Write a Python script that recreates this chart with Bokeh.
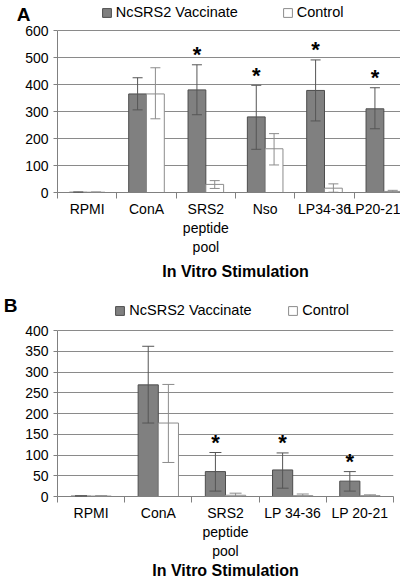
from bokeh.plotting import figure
from bokeh.models import (ColumnDataSource, FixedTicker, Whisker, TeeHead, Legend,
                          LegendItem, Range1d, LinearAxis)
from bokeh.layouts import column
from bokeh.embed import file_html
from bokeh.resources import INLINE
from bokeh.core.properties import value

FONT = "Liberation Sans"

# ---------------- Panel A data ----------------
a_categories = ["RPMI", "ConA", "SRS2\npeptide\npool", "Nso", "LP34-36", "LP20-21"]
a_vacc = [1, 365, 380, 280, 378, 310]
a_vacc_lo = [0, 306, 288, 160, 265, 236]
a_vacc_hi = [2, 425, 473, 397, 491, 388]
a_ctrl = [1, 365, 30, 162, 16, 4]
a_ctrl_lo = [0, 273, 15, 102, 1, 0]
a_ctrl_hi = [2, 462, 44, 218, 32, 8]
a_sig = [False, False, True, True, True, True]
a_yticks = [0, 100, 200, 300, 400, 500, 600]

# ---------------- Panel B data ----------------
b_categories = ["RPMI", "ConA", "SRS2\npeptide\npool", "LP 34-36", "LP 20-21"]
b_vacc = [1, 269, 60, 64, 37]
b_vacc_lo = [0, 177, 13, 20, 13]
b_vacc_hi = [2, 362, 106, 105, 60]
b_ctrl = [1, 177, 3, 2, 2]
b_ctrl_lo = [0, 82, 0, 0, 0]
b_ctrl_hi = [2, 270, 8, 6, 4]
b_sig = [False, False, True, True, True]
b_yticks = [0, 50, 100, 150, 200, 250, 300, 350, 400]

series_names = ["NcSRS2 Vaccinate", "Control"]
x_title = "In Vitro Stimulation"


def make_panel(letter, cats, vacc, vlo, vhi, ctrl, clo, chi, sig, yticks,
               fw, fh, top_gap, bl, br, bb, leg_x, leg_y, cap, tick_sd, label_sd,
               letter_dy, letter_sd):
    n = len(cats)
    ymax = yticks[-1]
    # extend the range so the frame reaches the canvas top (legend area)
    ytop = ymax * fh / (fh - top_gap)
    p = figure(frame_width=fw, frame_height=fh, output_backend="svg",
               toolbar_location=None,
               x_range=Range1d(0, n), y_range=Range1d(0, ytop),
               min_border_left=bl, min_border_right=br, min_border_top=0,
               min_border_bottom=bb)
    p.outline_line_color = None
    p.background_fill_color = "white"

    vx = [i + 0.35 for i in range(n)]
    cx = [i + 0.65 for i in range(n)]
    vs = ColumnDataSource(dict(x=vx, top=vacc, lo=vlo, hi=vhi))
    cs = ColumnDataSource(dict(x=cx, top=ctrl, lo=clo, hi=chi))

    rv = p.vbar(x="x", top="top", width=0.3, bottom=0, source=vs,
                fill_color="#808080", line_color="#4d4d4d", line_width=1)
    rc = p.vbar(x="x", top="top", width=0.3, bottom=0, source=cs,
                fill_color="white", line_color="#8c8c8c", line_width=1)

    for src, col in ((vs, "#555555"), (cs, "#8c8c8c")):
        w = Whisker(source=src, base="x", lower="lo", upper="hi", line_color=col,
                    line_width=1, level="annotation",
                    upper_head=TeeHead(size=cap, line_color=col, line_width=1),
                    lower_head=TeeHead(size=cap, line_color=col, line_width=1))
        p.add_layout(w)

    sx = [vx[i] for i in range(n) if sig[i]]
    sy = [vhi[i] for i in range(n) if sig[i]]
    ss = ColumnDataSource(dict(x=sx, y=sy, t=["*"] * len(sx)))
    p.text(x="x", y="y", text="t", source=ss, text_font=value(FONT),
           text_font_size="22px", text_font_style="bold", text_align="center",
           text_baseline="middle", y_offset=-10, text_color="black")

    # x axis: labels at category centres, ticks at category boundaries
    p.xaxis.ticker = FixedTicker(ticks=[i + 0.5 for i in range(n)],
                                 minor_ticks=list(range(n + 1)))
    p.xaxis.major_label_overrides = {i + 0.5: c for i, c in enumerate(cats)}
    p.xaxis.major_tick_line_color = None
    p.xaxis.major_tick_out = 0
    p.xaxis.major_tick_in = 0
    p.xaxis.minor_tick_out = 6
    p.xaxis.minor_tick_in = 0
    p.xaxis.minor_tick_line_color = "#808080"
    p.xaxis.axis_line_color = "#808080"
    p.xaxis.major_label_text_font = FONT
    p.xaxis.major_label_text_font_size = "14px"
    p.xaxis.major_label_text_color = "black"
    p.xaxis.major_label_standoff = tick_sd
    p.xaxis.axis_label = x_title
    p.xaxis.axis_label_text_font = FONT
    p.xaxis.axis_label_text_font_size = "16px"
    p.xaxis.axis_label_text_font_style = "bold"
    p.xaxis.axis_label_text_color = "black"
    p.xaxis.axis_label_standoff = label_sd

    p.yaxis.ticker = FixedTicker(ticks=yticks)
    p.yaxis.bounds = (0, ymax)
    p.yaxis.minor_tick_line_color = None
    p.yaxis.minor_tick_out = 0
    p.yaxis.minor_tick_in = 0
    p.yaxis.major_tick_out = 4
    p.yaxis.major_tick_in = 0
    p.yaxis.major_tick_line_color = "#808080"
    p.yaxis.axis_line_color = "#808080"
    p.yaxis.major_label_text_font = FONT
    p.yaxis.major_label_text_font_size = "14px"
    p.yaxis.major_label_text_color = "black"
    p.yaxis.major_label_standoff = 5

    p.xgrid.visible = False
    p.ygrid.ticker = FixedTicker(ticks=yticks)
    p.ygrid.grid_line_color = "#8a8a8a"
    p.ygrid.grid_line_width = 1

    for k, (r, name) in enumerate(((rv, series_names[0]), (rc, series_names[1]))):
        leg = Legend(items=[LegendItem(label=name, renderers=[r])],
                     location=(leg_x[k], leg_y), padding=0, margin=0,
                     border_line_color=None, background_fill_alpha=0,
                     glyph_width=11, glyph_height=11, label_standoff=4,
                     label_height=11, label_text_font=FONT,
                     label_text_font_size="14.5px", label_text_color="black")
        p.add_layout(leg, "center")

    # panel letter drawn as the single label of an extra, line-less left axis
    letter_pos = ytop - letter_dy * ytop / fh
    la = LinearAxis(ticker=FixedTicker(ticks=[letter_pos]),
                    major_label_overrides={letter_pos: letter},
                    axis_line_color=None, major_tick_line_color=None,
                    minor_tick_line_color=None, major_tick_out=0, major_tick_in=0,
                    minor_tick_out=0, minor_tick_in=0,
                    major_label_standoff=letter_sd,
                    major_label_text_font=FONT, major_label_text_font_size="19px",
                    major_label_text_font_style="bold",
                    major_label_text_color="black")
    p.add_layout(la, "left")
    return p


pa = make_panel("A", a_categories, a_vacc, a_vacc_lo, a_vacc_hi, a_ctrl, a_ctrl_lo,
                a_ctrl_hi, a_sig, a_yticks, 356, 192, 30, 44, 0, 98,
                (56.7, 237.7), 172, 10, 2, 5, 7, -8)
pb = make_panel("B", b_categories, b_vacc, b_vacc_lo, b_vacc_hi, b_ctrl, b_ctrl_lo,
                b_ctrl_hi, b_sig, b_yticks, 336, 206, 40, 57, 7, 85,
                (57.3, 230.3), 178, 12, 2, 0, 6, 5)

layout = column(pa, pb, spacing=0)
open("out.html", "w").write(file_html(layout, INLINE))
